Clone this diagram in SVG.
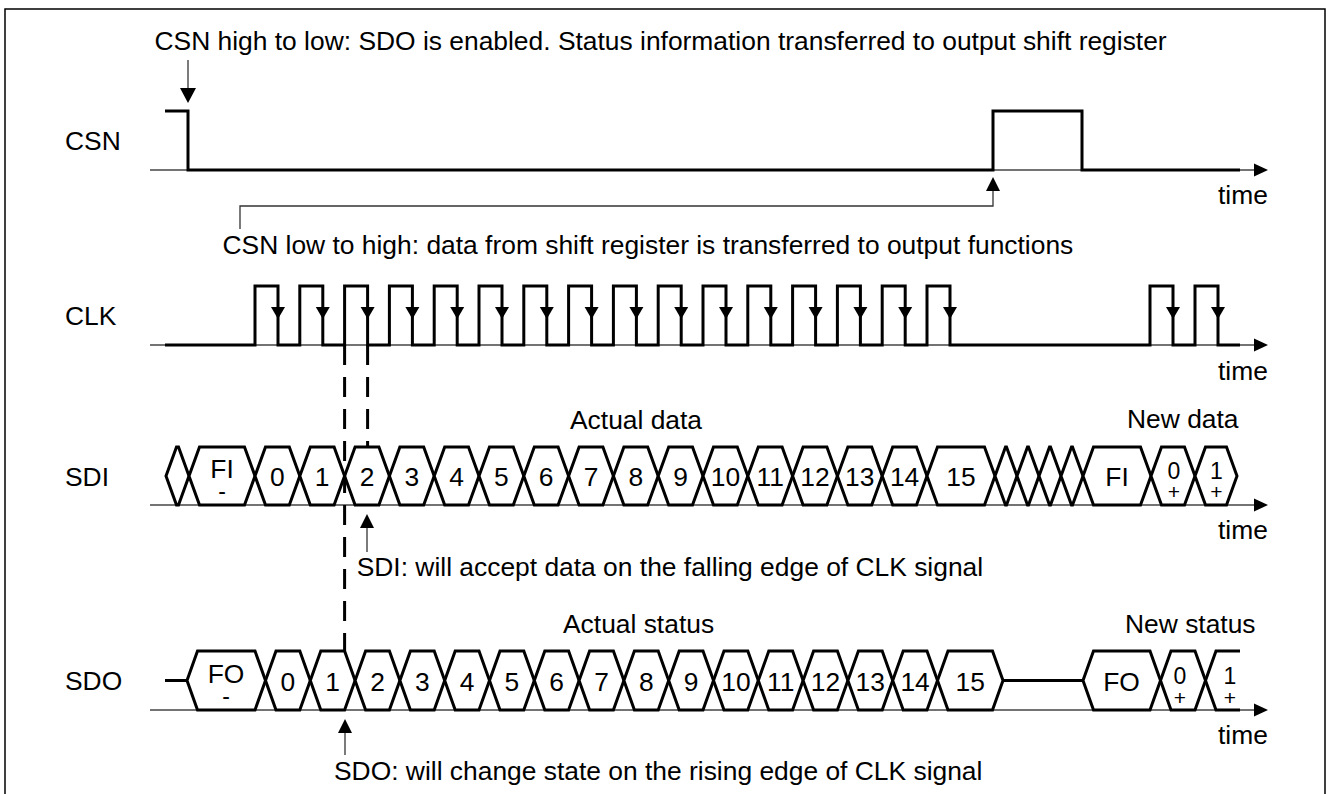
<svg xmlns="http://www.w3.org/2000/svg" width="1330" height="794" viewBox="0 0 1330 794">
<style>
text{font-family:"Liberation Sans",Arial,sans-serif;font-size:26.4px;fill:#000}
.m{text-anchor:middle}
.sm{font-size:23px}
.pl{font-size:21px}
.sig{fill:none;stroke:#000;stroke-width:3;stroke-linejoin:miter;stroke-linecap:butt}
.hex{fill:#fff;stroke:#000;stroke-width:3;stroke-linejoin:miter}
.axis{stroke:#444;stroke-width:1.3;fill:none}
.thin{stroke:#333;stroke-width:1.3;fill:none}
.dash{stroke:#000;stroke-width:3;stroke-dasharray:20 12;fill:none}
.ah{fill:#000;stroke:none}
</style>
<defs>
<path id="ax" d="M-14,-6.5 L0,0 L-14,6.5 Z"/>
<path id="ca" d="M-7,-12 H7 L0,0 Z"/>
<path id="up" d="M-7,14 H7 L0,0 Z"/>
<path id="dn" d="M-8,-15 H8 L0,0 Z"/>
</defs>
<rect width="1330" height="794" fill="#fff"/>
<path d="M5,794 V9 H1325 V794" fill="none" stroke="#000" stroke-width="1.5"/>

<g id="csn">
<text x="65" y="150">CSN</text>
<line class="axis" x1="150" y1="170" x2="1256" y2="170"/>
<use href="#ax" x="1268" y="170" class="ah"/>
<text x="1218" y="204">time</text>
<path class="sig" d="M165,111 H188 V170 H993 V111 H1082 V170 H1240"/>
</g>

<g id="clk">
<text x="65" y="325">CLK</text>
<line class="axis" x1="150" y1="345" x2="1256" y2="345"/>
<use href="#ax" x="1268" y="345" class="ah"/>
<text x="1218" y="380">time</text>
<path class="sig" d="M165,345 H255 V286 H278 V345 H299.8 V286 H322.8 V345 H344.6 V286 H367.6 V345 H389.4 V286 H412.4 V345 H434.2 V286 H457.2 V345 H479 V286 H502 V345 H523.8 V286 H546.8 V345 H568.6 V286 H591.6 V345 H613.4 V286 H636.4 V345 H658.2 V286 H681.2 V345 H703 V286 H726 V345 H747.8 V286 H770.8 V345 H792.6 V286 H815.6 V345 H837.4 V286 H860.4 V345 H882.2 V286 H905.2 V345 H927 V286 H950 V345 H1150 V286 H1173 V345 H1195 V286 H1218 V345 H1240"/>
<g class="ah">
<use href="#ca" x="278" y="319"/><use href="#ca" x="322.8" y="319"/><use href="#ca" x="367.6" y="319"/><use href="#ca" x="412.4" y="319"/>
<use href="#ca" x="457.2" y="319"/><use href="#ca" x="502" y="319"/><use href="#ca" x="546.8" y="319"/><use href="#ca" x="591.6" y="319"/>
<use href="#ca" x="636.4" y="319"/><use href="#ca" x="681.2" y="319"/><use href="#ca" x="726" y="319"/><use href="#ca" x="770.8" y="319"/>
<use href="#ca" x="815.6" y="319"/><use href="#ca" x="860.4" y="319"/><use href="#ca" x="905.2" y="319"/><use href="#ca" x="950" y="319"/>
<use href="#ca" x="1173" y="319"/><use href="#ca" x="1218" y="319"/>
</g>
</g>

<g id="sdi">
<text x="65" y="486">SDI</text>
<line class="axis" x1="150" y1="505" x2="1256" y2="505"/>
<use href="#ax" x="1268" y="505" class="ah"/>
<text x="1218" y="539">time</text>
<text x="570" y="429">Actual data</text>
<text x="1127" y="428">New data</text>
<g class="hex">
<path d="M166,476 L176.5,447 L178.5,447 L189,476 L178.5,505 L176.5,505 Z"/>
<path d="M189,476 L199.5,447 L244.5,447 L255,476 L244.5,505 L199.5,505 Z"/>
<path d="M255,476 L265.5,447 L289.3,447 L299.8,476 L289.3,505 L265.5,505 Z"/>
<path d="M299.8,476 L310.3,447 L334.1,447 L344.6,476 L334.1,505 L310.3,505 Z"/>
<path d="M344.6,476 L355.1,447 L378.9,447 L389.4,476 L378.9,505 L355.1,505 Z"/>
<path d="M389.4,476 L399.9,447 L423.7,447 L434.2,476 L423.7,505 L399.9,505 Z"/>
<path d="M434.2,476 L444.7,447 L468.5,447 L479,476 L468.5,505 L444.7,505 Z"/>
<path d="M479,476 L489.5,447 L513.3,447 L523.8,476 L513.3,505 L489.5,505 Z"/>
<path d="M523.8,476 L534.3,447 L558.1,447 L568.6,476 L558.1,505 L534.3,505 Z"/>
<path d="M568.6,476 L579.1,447 L602.9,447 L613.4,476 L602.9,505 L579.1,505 Z"/>
<path d="M613.4,476 L623.9,447 L647.7,447 L658.2,476 L647.7,505 L623.9,505 Z"/>
<path d="M658.2,476 L668.7,447 L692.5,447 L703,476 L692.5,505 L668.7,505 Z"/>
<path d="M703,476 L713.5,447 L737.3,447 L747.8,476 L737.3,505 L713.5,505 Z"/>
<path d="M747.8,476 L758.3,447 L782.1,447 L792.6,476 L782.1,505 L758.3,505 Z"/>
<path d="M792.6,476 L803.1,447 L826.9,447 L837.4,476 L826.9,505 L803.1,505 Z"/>
<path d="M837.4,476 L847.9,447 L871.7,447 L882.2,476 L871.7,505 L847.9,505 Z"/>
<path d="M882.2,476 L892.7,447 L916.5,447 L927,476 L916.5,505 L892.7,505 Z"/>
<path d="M927,476 L937.5,447 L984.5,447 L995,476 L984.5,505 L937.5,505 Z"/>
<path d="M995,476 L1005.5,447 L1006.5,447 L1017,476 L1006.5,505 L1005.5,505 Z"/>
<path d="M1017,476 L1027.5,447 L1028.5,447 L1039,476 L1028.5,505 L1027.5,505 Z"/>
<path d="M1039,476 L1049.5,447 L1050.5,447 L1061,476 L1050.5,505 L1049.5,505 Z"/>
<path d="M1061,476 L1071.5,447 L1072.5,447 L1083,476 L1072.5,505 L1071.5,505 Z"/>
<path d="M1083,476 L1093.5,447 L1140.5,447 L1151,476 L1140.5,505 L1093.5,505 Z"/>
<path d="M1151,476 L1161.5,447 L1184.5,447 L1195,476 L1184.5,505 L1161.5,505 Z"/>
<path d="M1195,476 L1205.5,447 L1226.5,447 L1237,476 L1226.5,505 L1205.5,505 Z"/>
</g>
<g class="m">
<text x="222" y="478">FI</text><text x="222" y="499" class="sm">-</text>
<text x="277.4" y="486">0</text><text x="322.2" y="486">1</text><text x="367" y="486">2</text><text x="411.8" y="486">3</text>
<text x="456.6" y="486">4</text><text x="501.4" y="486">5</text><text x="546.2" y="486">6</text><text x="591" y="486">7</text>
<text x="635.8" y="486">8</text><text x="680.6" y="486">9</text><text x="725.4" y="486">10</text><text x="770.2" y="486">11</text>
<text x="815" y="486">12</text><text x="859.8" y="486">13</text><text x="904.6" y="486">14</text><text x="961" y="486">15</text>
<text x="1117" y="486">FI</text>
<text x="1174" y="478.5" class="sm">0</text><text x="1174" y="499" class="pl">+</text>
<text x="1216.5" y="478.5" class="sm">1</text><text x="1216.5" y="499" class="pl">+</text>
</g>
</g>

<g id="sdo">
<text x="65" y="690">SDO</text>
<line class="axis" x1="150" y1="710" x2="1256" y2="710"/>
<use href="#ax" x="1268" y="710" class="ah"/>
<text x="1218" y="744">time</text>
<text x="563" y="633">Actual status</text>
<text x="1125" y="633">New status</text>
<path class="sig" d="M165,680.5 H187 M1003,680.5 H1083"/>
<g class="hex">
<path d="M187,680.5 L197.5,651 L255,651 L265.5,680.5 L255,710 L197.5,710 Z"/>
<path d="M265.5,680.5 L276,651 L299.8,651 L310.3,680.5 L299.8,710 L276,710 Z"/>
<path d="M310.3,680.5 L320.8,651 L344.6,651 L355.1,680.5 L344.6,710 L320.8,710 Z"/>
<path d="M355.1,680.5 L365.6,651 L389.4,651 L399.9,680.5 L389.4,710 L365.6,710 Z"/>
<path d="M399.9,680.5 L410.4,651 L434.2,651 L444.7,680.5 L434.2,710 L410.4,710 Z"/>
<path d="M444.7,680.5 L455.2,651 L479,651 L489.5,680.5 L479,710 L455.2,710 Z"/>
<path d="M489.5,680.5 L500,651 L523.8,651 L534.3,680.5 L523.8,710 L500,710 Z"/>
<path d="M534.3,680.5 L544.8,651 L568.6,651 L579.1,680.5 L568.6,710 L544.8,710 Z"/>
<path d="M579.1,680.5 L589.6,651 L613.4,651 L623.9,680.5 L613.4,710 L589.6,710 Z"/>
<path d="M623.9,680.5 L634.4,651 L658.2,651 L668.7,680.5 L658.2,710 L634.4,710 Z"/>
<path d="M668.7,680.5 L679.2,651 L703,651 L713.5,680.5 L703,710 L679.2,710 Z"/>
<path d="M713.5,680.5 L724,651 L747.8,651 L758.3,680.5 L747.8,710 L724,710 Z"/>
<path d="M758.3,680.5 L768.8,651 L792.6,651 L803.1,680.5 L792.6,710 L768.8,710 Z"/>
<path d="M803.1,680.5 L813.6,651 L837.4,651 L847.9,680.5 L837.4,710 L813.6,710 Z"/>
<path d="M847.9,680.5 L858.4,651 L882.2,651 L892.7,680.5 L882.2,710 L858.4,710 Z"/>
<path d="M892.7,680.5 L903.2,651 L927,651 L937.5,680.5 L927,710 L903.2,710 Z"/>
<path d="M937.5,680.5 L948,651 L992.5,651 L1003,680.5 L992.5,710 L948,710 Z"/>
<path d="M1083,680.5 L1093.5,651 L1150,651 L1160.5,680.5 L1150,710 L1093.5,710 Z"/>
<path d="M1160.5,680.5 L1171,651 L1195,651 L1205.5,680.5 L1195,710 L1171,710 Z"/>
<path d="M1240,651 L1216,651 L1205.5,680.5 L1216,710 L1240,710" fill="none"/>
</g>
<g class="m">
<text x="226" y="683">FO</text><text x="226" y="704" class="sm">-</text>
<text x="287.9" y="690.5">0</text><text x="332.7" y="690.5">1</text><text x="377.5" y="690.5">2</text><text x="422.3" y="690.5">3</text>
<text x="467.1" y="690.5">4</text><text x="511.9" y="690.5">5</text><text x="556.7" y="690.5">6</text><text x="601.5" y="690.5">7</text>
<text x="646.3" y="690.5">8</text><text x="691.1" y="690.5">9</text><text x="735.9" y="690.5">10</text><text x="780.7" y="690.5">11</text>
<text x="825.5" y="690.5">12</text><text x="870.3" y="690.5">13</text><text x="915.1" y="690.5">14</text><text x="970.3" y="690.5">15</text>
<text x="1121.5" y="690.5">FO</text>
<text x="1180" y="684" class="sm">0</text><text x="1180" y="705" class="pl">+</text>
<text x="1230" y="684" class="sm">1</text><text x="1230" y="705" class="pl">+</text>
</g>
</g>

<g id="connectors">
<text x="154.5" y="50">CSN high to low: SDO is enabled. Status information transferred to output shift register</text>
<line class="thin" x1="188" y1="60" x2="188" y2="90"/>
<use href="#dn" x="188" y="103" class="ah"/>
<polyline class="thin" points="240,229 240,206 993,206 993,190"/>
<use href="#up" x="993" y="177" class="ah"/>
<text x="222.5" y="254">CSN low to high: data from shift register is transferred to output functions</text>
<line class="dash" x1="344.6" y1="345" x2="344.6" y2="651"/>
<line class="dash" x1="367.6" y1="345" x2="367.6" y2="447"/>
<line class="thin" x1="367" y1="526" x2="367" y2="552"/>
<use href="#up" x="367" y="514" class="ah"/>
<text x="356.7" y="576">SDI: will accept data on the falling edge of CLK signal</text>
<line class="thin" x1="345" y1="731" x2="345" y2="755"/>
<use href="#up" x="345" y="719" class="ah"/>
<text x="334" y="780">SDO: will change state on the rising edge of CLK signal</text>
</g>
</svg>
